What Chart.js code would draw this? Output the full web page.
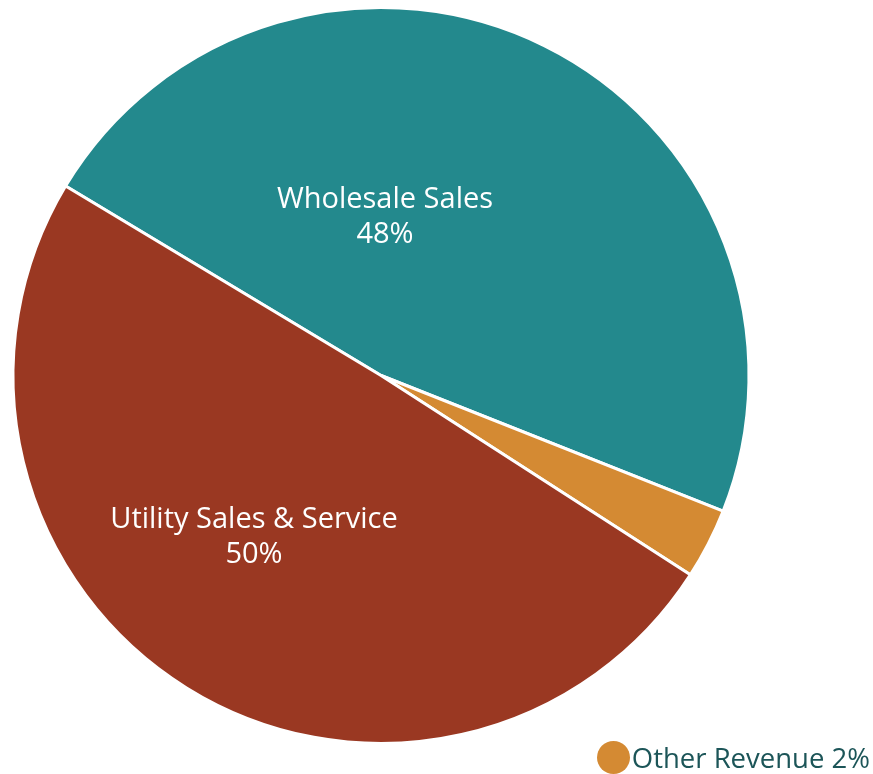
<!DOCTYPE html>
<html>
<head>
<meta charset="utf-8">
<script src="https://cdn.jsdelivr.net/npm/chart.js@4.4.1/dist/chart.umd.min.js"></script>
<style>
  html, body { margin: 0; padding: 0; background: #ffffff; }
  #wrap { position: relative; width: 873px; height: 774px; }
  #legend { position: absolute; right: 3px; bottom: 0px; height: 34px; display: flex; align-items: center;
            font-family: "Open Sans", sans-serif; font-size: 27.5px; color: #1c5558; white-space: nowrap; }
  #legend .dot { display: inline-block; width: 33px; height: 33px; border-radius: 50%; margin-right: 2px; }
</style>
</head>
<body>
<div id="wrap">
  <canvas id="c" width="873" height="774"></canvas>
  <div id="legend"></div>
</div>
<script>
const categories = ["Wholesale Sales", "Other Revenue", "Utility Sales & Service"];
const values = [47.4, 3.1, 49.5];
const pctLabels = ["48%", "2%", "50%"];
const colors = ["#23898d", "#d48a33", "#9a3822"];

// in-slice label placement (offset from pie center), null = shown in legend instead
const labelOffsets = [{dx: 4, dy: -159}, null, {dx: -127, dy: 161}];

const sliceLabels = {
  id: 'sliceLabels',
  afterDatasetsDraw(chart) {
    const ctx = chart.ctx;
    const meta = chart.getDatasetMeta(0);
    ctx.save();
    ctx.fillStyle = '#ffffff';
    ctx.font = '29px "Open Sans", sans-serif';
    ctx.textAlign = 'center';
    ctx.textBaseline = 'middle';
    meta.data.forEach((arc, i) => {
      const off = labelOffsets[i];
      if (!off) return;
      const x = arc.x + off.dx, y = arc.y + off.dy;
      ctx.fillText(categories[i], x, y - 17);
      ctx.fillText(pctLabels[i], x, y + 18);
    });
    ctx.restore();
  }
};

new Chart(document.getElementById('c'), {
  type: 'pie',
  data: {
    labels: categories,
    datasets: [{
      data: values,
      backgroundColor: colors,
      borderColor: '#ffffff',
      borderWidth: 3
    }]
  },
  options: {
    responsive: false,
    animation: false,
    rotation: -59,
    layout: { padding: { left: 10, right: 121, top: 6, bottom: 29 } },
    plugins: {
      legend: { display: false },
      tooltip: { enabled: false }
    }
  },
  plugins: [sliceLabels]
});

// HTML legend for slices not labelled inside
const legend = document.getElementById('legend');
labelOffsets.forEach((off, i) => {
  if (off) return;
  const dot = document.createElement('span');
  dot.className = 'dot';
  dot.style.background = colors[i];
  legend.appendChild(dot);
  const txt = document.createElement('span');
  txt.textContent = categories[i] + ' ' + pctLabels[i];
  legend.appendChild(txt);
});
</script>
</body>
</html>
